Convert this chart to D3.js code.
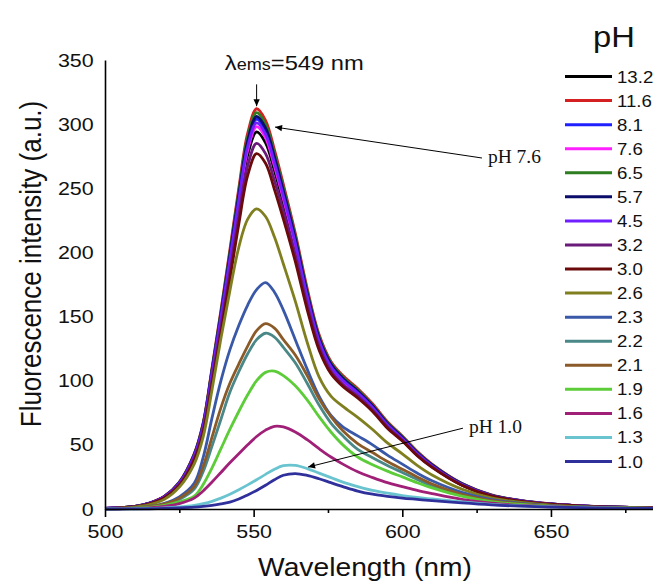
<!DOCTYPE html>
<html>
<head>
<meta charset="utf-8">
<script src="https://cdn.jsdelivr.net/npm/d3@7"></script>
<style>
  body { margin: 0; background: #fff; }
  svg { display: block; font-family: "Liberation Sans", Arial, sans-serif; }
</style>
</head>
<body>
<svg width="653" height="581"></svg>
<script>
// Emission spectra (intensity in a.u. at each wavelength)
const wavelength = [500,505,510,515,520,525,530,533,536,539,542,545,548,551,554,557,560,564,568,572,576,580,585,590,595,600,605,610,620,630,640,650,660,670,685];

const ph132 = [0.5,0.9,1.9,4.4,9.4,19.7,40.6,63.2,103.8,146,190.2,235.5,276,294,285.5,263.7,238.4,202.6,162,128.2,108.5,98,88.5,77.3,64,53.8,42.3,33,18.8,10.3,6.2,3.8,2.4,1.5,0.8];
const ph116 = [0.5,1,2,4.7,10,21,43,67,110,155,202,250,293,312,303,280,253,215,172,136,115,104,94,82,68,57,45,35,20,11,6.5,4,2.5,1.6,0.8];
const ph81  = [0.5,1,1.9,4.6,9.7,20.4,42,65.4,107.3,151,196.7,243.5,285.5,304,295,272.7,246.5,209.5,167.5,132.5,112,101,91.5,80,66.3,55.6,43.8,34,19.5,10.6,6.4,3.9,2.4,1.6,0.8];
const ph76  = [0.5,1,1.9,4.5,9.5,20,41.1,64,105.2,148,192.8,238.7,279.8,298,289.4,267.3,241.7,205.3,164.2,130,110,99.2,89.7,78.4,65,54.5,42.9,33.4,19.1,10.4,6.3,3.8,2.4,1.5,0.8];
const ph65  = [0.5,1,2,4.6,9.9,20.7,42.6,66.4,109,153.6,200,247.5,290,309,300,277,250.6,213,170,134.7,114,103,93,81,67.4,56.5,44.5,34.6,19.8,10.8,6.5,4,2.5,1.6,0.8];
const ph57  = [0.5,1,2,4.6,9.8,20.5,42.2,65.8,108,152,198,245,287,306,297,274.5,248,211,168.6,133.4,113,102,92,80.5,66.7,56,44,34.3,19.6,10.7,6.4,3.9,2.4,1.6,0.8];
const ph45  = [0.5,1,1.9,4.5,9.6,20.2,41.5,64.7,106.3,149.6,194.7,241,282.6,301,292.3,270,244,207.4,165.9,131.2,111,100.3,90.6,79.2,65.6,55,43.3,33.7,19.3,10.5,6.3,3.9,2.4,1.5,0.8];
const ph32  = [0.5,0.9,1.8,4.3,9.1,19.1,39.3,61.3,100.6,141.6,184.4,228.3,267.6,285,277,256,232,198,159,126.5,107.5,97,88,77,64,53.5,42,32.8,18.7,10.2,6.1,3.8,2.4,1.5,0.8];
const ph30  = [0.5,0.9,1.8,4.1,8.8,18.3,38,59,97,137,179,222,260,277,269.5,249,226,193,155.5,124,105.5,95.5,86.5,76,63,53,41.5,32.4,18.5,10,6,3.7,2.3,1.5,0.8];
const ph26  = [0.4,0.7,1.5,3.4,7.5,17,35,56,93,133,170,204,226,234,228,212,191,162,130,103,88,80,71.5,62,51.5,43,34,26.5,15.5,8.6,5.1,3.1,1.9,1.2,0.6];
const ph23  = [0.2,0.4,0.9,2,4.5,9.5,20,40,71,100,124,143,159,171,176.5,169,155,132,109,88,73,64,57,50,42,35,28,22,13,7.3,4.4,2.7,1.7,1.1,0.5];
const ph22  = [0.2,0.4,0.7,1.6,3.6,7.5,15.5,29,49,70,91,107,121,132,137,134,126,114,98,81,67,57,46.5,40,34,28.5,23,18,10.5,6,3.6,2.2,1.4,0.9,0.4];
const ph21  = [0.2,0.4,0.8,1.8,4,8.5,17.5,33,56,79,98,113,127,139,144.5,141,132,120,104,86,72,61,51,44,37,31,25,19.5,11.5,6.5,3.9,2.4,1.5,1,0.5];
const ph19  = [0.1,0.3,0.6,1.3,2.8,5.5,10,19,32,47,62,76,89,100,106.5,107.5,104,96,85,72,60,50,40.5,34.5,29.5,25,20.5,16.5,10,5.8,3.5,2.1,1.3,0.8,0.4];
const ph16  = [0.1,0.2,0.4,0.9,2,4.2,8.5,14,21,28.5,36,43,50,56.5,61.5,64.5,64,60,54,47,40.5,35,29,24.5,20.5,17.5,14.5,12,7.5,4.5,2.8,1.8,1.1,0.7,0.4];
const ph13  = [0,0.1,0.2,0.4,0.8,1.6,2.9,4.2,6,8.5,11.5,15,18.8,22.8,27,31,33.8,34,31.5,28,24.5,21,17.5,14.5,12.3,10.5,9,7.8,5.5,3.6,2.4,1.6,1,0.7,0.4];
const ph10  = [0,0,0.1,0.2,0.4,0.8,1.4,2,2.8,3.9,5.4,7.8,11,14.5,18.5,22.8,26.3,27.6,26.2,23.6,20.5,17.5,14,11.5,9.8,8.5,7.5,6.5,4.7,3.2,2.2,1.5,1,0.7,0.4];

const phLabels = ["13.2","11.6","8.1","7.6","6.5","5.7","4.5","3.2","3.0","2.6","2.3","2.2","2.1","1.9","1.6","1.3","1.0"];
const series = [ph132, ph116, ph81, ph76, ph65, ph57, ph45, ph32, ph30, ph26, ph23, ph22, ph21, ph19, ph16, ph13, ph10];

const xTicks = [500, 550, 600, 650];
const xMinorTicks = [525, 575, 625, 675];
const yTicks = [0, 50, 100, 150, 200, 250, 300, 350];

// line colours, same order as phLabels
const colors = ["#000000","#d42020","#2020ff","#ff20ff","#2e7d20","#0c0c6a","#7020ff","#6a1a7a",
                "#6a0a0a","#7f7f20","#3a58a8","#4a8888","#8a5a28","#5ccd38","#a02078","#6ac4d0","#30309c"];

const svg = d3.select("svg");
const stretch = 1.13; // the source text looks a bit wide

const x = d3.scaleLinear().domain([500, 685]).range([105, 655]);
const y = d3.scaleLinear().domain([0, 350]).range([509, 60]);

// arrow head
svg.append("defs").append("marker")
    .attr("id", "arrow")
    .attr("viewBox", "0 0 10 10")
    .attr("refX", 10).attr("refY", 5)
    .attr("markerUnits", "userSpaceOnUse")
    .attr("markerWidth", 10).attr("markerHeight", 7)
    .attr("orient", "auto")
  .append("path")
    .attr("d", "M0,0.5L10,5L0,9.5z")
    .attr("fill", "#000");

// spectra, in legend order
const line = d3.line()
    .x((d, i) => x(wavelength[i]))
    .y(d => y(d))
    .curve(d3.curveCatmullRom.alpha(0.5));

svg.append("g")
    .selectAll("path")
    .data(series)
    .join("path")
    .attr("d", line)
    .attr("fill", "none")
    .attr("stroke", (d, i) => colors[i])
    .attr("stroke-width", 2.8)
    .attr("stroke-linejoin", "round");

// x axis
const xAxis = svg.append("g")
    .attr("transform", `translate(0,${y(0)})`)
    .call(d3.axisBottom(x).tickValues(xTicks).tickSize(8).tickPadding(8).tickSizeOuter(0).tickFormat(d3.format("d")));
xAxis.selectAll("text")
    .attr("font-size", 19)
    .attr("font-family", "Liberation Sans, Arial, sans-serif")
    .attr("fill", "#111")
    .attr("transform", `scale(${stretch},1)`);
xAxis.selectAll("line, path").attr("stroke-width", 1.6);

svg.append("g")
    .attr("transform", `translate(0,${y(0)})`)
    .call(d3.axisBottom(x).tickValues(xMinorTicks).tickSize(4).tickFormat(""))
    .call(g => g.select(".domain").remove())
    .selectAll("line").attr("stroke-width", 1.6);

// y axis
const yAxis = svg.append("g")
    .attr("transform", `translate(${x(500)},0)`)
    .call(d3.axisLeft(y).tickValues(yTicks).tickSize(0).tickPadding(10).tickSizeOuter(0));
yAxis.selectAll("text")
    .attr("font-size", 19)
    .attr("font-family", "Liberation Sans, Arial, sans-serif")
    .attr("fill", "#111")
    .attr("transform", `scale(${stretch},1)`);
yAxis.select(".domain").attr("stroke-width", 1.6);

// axis titles
svg.append("text")
    .attr("transform", `translate(365,576) scale(${stretch},1)`)
    .attr("text-anchor", "middle")
    .attr("font-size", 25)
    .attr("fill", "#111")
    .text("Wavelength (nm)");

svg.append("text")
    .attr("transform", `translate(41,264) scale(${stretch},1) rotate(-90)`)
    .attr("text-anchor", "middle")
    .attr("font-size", 26)
    .attr("fill", "#111")
    .text("Fluorescence intensity (a.u.)");

// legend
const row = d3.scalePoint().domain(phLabels).range([76.5, 461.5]);

svg.append("text")
    .attr("transform", `translate(593,47) scale(${stretch},1)`)
    .attr("font-size", 29)
    .attr("fill", "#111")
    .text("pH");

const legend = svg.append("g")
    .selectAll("g")
    .data(phLabels)
    .join("g")
    .attr("transform", d => `translate(565,${row(d)})`);
legend.append("line")
    .attr("x2", 47)
    .attr("stroke", (d, i) => colors[i])
    .attr("stroke-width", 3);
legend.append("text")
    .attr("transform", `translate(52,6) scale(${stretch},1)`)
    .attr("font-size", 16.5)
    .attr("fill", "#111")
    .text(d => d);

// annotations
const peak = svg.append("text")
    .attr("transform", `translate(${x(540.3)},${y(342)}) scale(${stretch},1)`)
    .attr("fill", "#111");
peak.append("tspan").attr("font-size", 21).text("λ");
peak.append("tspan").attr("font-size", 16).text("ems");
peak.append("tspan").attr("font-size", 21).text("=549 nm");

svg.append("line")
    .attr("x1", x(551)).attr("y1", y(331))
    .attr("x2", x(551)).attr("y2", y(314))
    .attr("stroke", "#000").attr("stroke-width", 1)
    .attr("marker-end", "url(#arrow)");

svg.append("line")
    .attr("x1", x(626.8)).attr("y1", y(273.6))
    .attr("x2", x(557.2)).attr("y2", y(297.7))
    .attr("stroke", "#000").attr("stroke-width", 1)
    .attr("marker-end", "url(#arrow)");
svg.append("text")
    .attr("x", x(628.8)).attr("y", y(269.7))
    .attr("font-family", "Liberation Serif, 'Times New Roman', serif")
    .attr("font-size", 19.5)
    .attr("fill", "#111")
    .text("pH 7.6");

svg.append("line")
    .attr("x1", x(620.4)).attr("y1", y(63))
    .attr("x2", x(568.3)).attr("y2", y(32.7))
    .attr("stroke", "#000").attr("stroke-width", 1)
    .attr("marker-end", "url(#arrow)");
svg.append("text")
    .attr("x", x(622.4)).attr("y", y(59))
    .attr("font-family", "Liberation Serif, 'Times New Roman', serif")
    .attr("font-size", 19.5)
    .attr("fill", "#111")
    .text("pH 1.0");
</script>
</body>
</html>
